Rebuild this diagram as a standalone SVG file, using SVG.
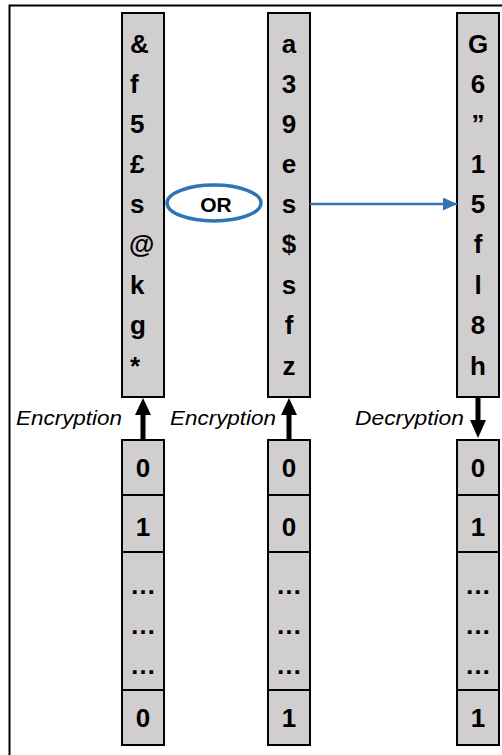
<svg xmlns="http://www.w3.org/2000/svg" width="502" height="755" viewBox="0 0 502 755">
<style>
.box{fill:#d0cece;stroke:#000;stroke-width:2}
.ch{font-family:"Liberation Sans",Arial,sans-serif;font-weight:bold;font-size:26px;fill:#000}
.c{text-anchor:middle}
.lbl{font-family:"Liberation Sans",Arial,sans-serif;font-style:italic;font-size:20px;fill:#000}
</style>
<defs>
<marker id="blueHead" markerWidth="14" markerHeight="13" refX="14" refY="6.5" orient="auto" markerUnits="userSpaceOnUse">
<path d="M0,0 L14,6.5 L0,13 Z" fill="#2e75b6"/>
</marker>
</defs>
<rect width="502" height="755" fill="#fff"/>
<path d="M9.5,755 V5.5 H502" fill="none" stroke="#000" stroke-width="2"/>

<g id="cipher1">
<rect class="box" x="122" y="13" width="42" height="384"/>
<text class="ch" x="130" y="53">&amp;</text>
<text class="ch" x="130" y="93">f</text>
<text class="ch" x="130" y="133">5</text>
<text class="ch" x="130" y="173">£</text>
<text class="ch" x="130" y="213">s</text>
<text class="ch" x="129" y="253">@</text>
<text class="ch" x="130" y="294">k</text>
<text class="ch" x="130" y="334">g</text>
<text class="ch" x="130" y="375">*</text>
</g>

<g id="cipher2">
<rect class="box" x="268" y="13" width="42" height="384"/>
<text class="ch c" x="289" y="53">a</text>
<text class="ch c" x="289" y="93">3</text>
<text class="ch c" x="289" y="133">9</text>
<text class="ch c" x="289" y="173">e</text>
<text class="ch c" x="289" y="213">s</text>
<text class="ch c" x="289" y="253">$</text>
<text class="ch c" x="289" y="294">s</text>
<text class="ch c" x="289" y="334">f</text>
<text class="ch c" x="289" y="375">z</text>
</g>

<g id="cipher3">
<rect class="box" x="457" y="13" width="42" height="384"/>
<text class="ch c" x="478" y="53">G</text>
<text class="ch c" x="478" y="93">6</text>
<text class="ch c" x="478" y="133">”</text>
<text class="ch c" x="478" y="173">1</text>
<text class="ch c" x="478" y="213">5</text>
<text class="ch c" x="478" y="253">f</text>
<text class="ch c" x="478" y="294">l</text>
<text class="ch c" x="478" y="334">8</text>
<text class="ch c" x="478" y="375">h</text>
</g>

<g id="or">
<ellipse cx="214" cy="203" rx="47" ry="18" fill="#fff" stroke="#2e75b6" stroke-width="3.5"/>
<text x="216" y="212" text-anchor="middle" font-family="'Liberation Sans',Arial,sans-serif" font-weight="bold" font-size="21">OR</text>
</g>

<g id="plain1">
<rect class="box" x="122" y="440" width="42" height="55"/>
<rect class="box" x="122" y="495" width="42" height="57"/>
<rect class="box" x="122" y="552" width="42" height="138"/>
<rect class="box" x="122" y="690" width="42" height="55"/>
<text class="ch c" x="143" y="477">0</text>
<text class="ch c" x="143" y="536">1</text>
<text class="ch c" x="143" y="594">…</text>
<text class="ch c" x="143" y="634">…</text>
<text class="ch c" x="143" y="674">…</text>
<text class="ch c" x="143" y="727">0</text>
</g>

<g id="plain2">
<rect class="box" x="268" y="440" width="42" height="55"/>
<rect class="box" x="268" y="495" width="42" height="57"/>
<rect class="box" x="268" y="552" width="42" height="138"/>
<rect class="box" x="268" y="690" width="42" height="55"/>
<text class="ch c" x="289" y="477">0</text>
<text class="ch c" x="289" y="536">0</text>
<text class="ch c" x="289" y="594">…</text>
<text class="ch c" x="289" y="634">…</text>
<text class="ch c" x="289" y="674">…</text>
<text class="ch c" x="289" y="727">1</text>
</g>

<g id="plain3">
<rect class="box" x="457" y="440" width="42" height="55"/>
<rect class="box" x="457" y="495" width="42" height="57"/>
<rect class="box" x="457" y="552" width="42" height="138"/>
<rect class="box" x="457" y="690" width="42" height="55"/>
<text class="ch c" x="478" y="477">0</text>
<text class="ch c" x="478" y="536">1</text>
<text class="ch c" x="478" y="594">…</text>
<text class="ch c" x="478" y="634">…</text>
<text class="ch c" x="478" y="674">…</text>
<text class="ch c" x="478" y="727">1</text>
</g>

<g id="connectors">
<path d="M143,440 V414" stroke="#000" stroke-width="5" fill="none"/>
<path d="M135,415 L143,398 L151,415 Z" fill="#000"/>
<path d="M289,440 V414" stroke="#000" stroke-width="5" fill="none"/>
<path d="M281,415 L289,398 L297,415 Z" fill="#000"/>
<path d="M478,397 V421" stroke="#000" stroke-width="5" fill="none"/>
<path d="M470,420 L478,438 L486,420 Z" fill="#000"/>
<line x1="310" y1="204" x2="457" y2="204" stroke="#2e75b6" stroke-width="2.5" marker-end="url(#blueHead)"/>
</g>

<g id="labels">
<text class="lbl" x="16" y="425" textLength="106" lengthAdjust="spacingAndGlyphs">Encryption</text>
<text class="lbl" x="170" y="425" textLength="106" lengthAdjust="spacingAndGlyphs">Encryption</text>
<text class="lbl" x="355" y="425" textLength="109" lengthAdjust="spacingAndGlyphs">Decryption</text>
</g>
</svg>
